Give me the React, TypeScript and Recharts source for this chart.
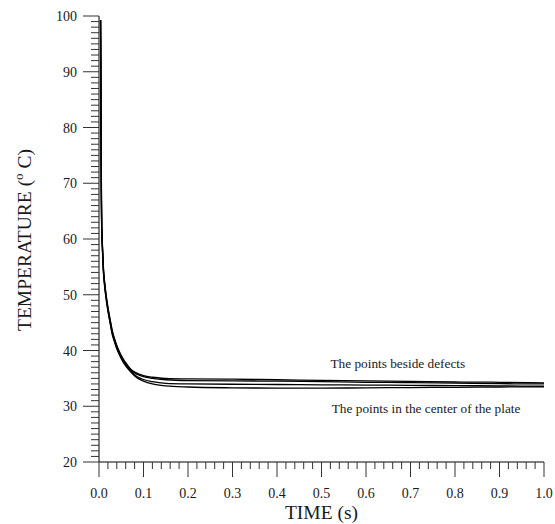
import React from 'react';
import { LineChart, Line, XAxis, YAxis, ReferenceDot } from 'recharts';

// Sampling times (s)
const times = [
  0.0035, 0.004, 0.0045, 0.005, 0.0055, 0.006, 0.007, 0.0085, 0.01, 0.0125,
  0.015, 0.0175, 0.02, 0.025, 0.03, 0.035, 0.04, 0.047, 0.055, 0.062,
  0.072, 0.085, 0.1, 0.12, 0.15, 0.2, 0.3, 0.4, 0.5, 0.6, 0.7, 0.8, 0.9, 1.0,
];

// Temperatures (°C) at points beside the defects
const besideA = [
  99.3, 93, 84, 75, 68.5, 63.5, 60.5, 57.4, 54.8, 52.4,
  50.6, 49.1, 47.8, 45.6, 43.5, 42.1, 40.9, 39.6, 38.4, 37.6,
  36.6, 35.95, 35.5, 35.2, 35.0, 34.9, 34.85, 34.75, 34.65, 34.55, 34.45, 34.35, 34.3, 34.2,
];
const besideB = [
  99.3, 92, 82, 73, 67, 62.8, 60.1, 57.1, 54.5, 52.2,
  50.4, 48.9, 47.6, 45.4, 43.3, 41.9, 40.7, 39.4, 38.2, 37.4,
  36.45, 35.75, 35.3, 35.0, 34.75, 34.6, 34.55, 34.5, 34.4, 34.3, 34.25, 34.15, 34.05, 34.0,
];

// Temperatures (°C) at points in the center of the plate
const centerA = [
  99.3, 91, 80, 71, 66, 62.2, 59.8, 56.8, 54.2, 51.9,
  50.1, 48.6, 47.3, 45.1, 43.0, 41.7, 40.5, 39.2, 38.0, 37.2,
  36.25, 35.35, 34.8, 34.4, 34.1, 34.0, 33.95, 33.9, 33.85, 33.8, 33.75, 33.7, 33.65, 33.6,
];
const centerB = [
  99.3, 90, 79, 70, 65.5, 61.8, 59.4, 56.5, 53.9, 51.6,
  49.9, 48.4, 47.1, 44.9, 42.8, 41.5, 40.3, 39.0, 37.8, 37.0,
  36.1, 35.1, 34.5, 34.0, 33.65, 33.45, 33.3, 33.25, 33.25, 33.3, 33.35, 33.4, 33.45, 33.5,
];

const xTicks = Array.from({ length: 51 }, (_, i) => +(i * 0.02).toFixed(2));
const yTicks = Array.from({ length: 81 }, (_, i) => 20 + i);

const data = times.map((t, i) => ({
  t,
  besideA: besideA[i],
  besideB: besideB[i],
  centerA: centerA[i],
  centerB: centerB[i],
}));

const FONT = "'Liberation Serif', 'Times New Roman', Times, serif";
const TICK_COLOR = '#333';
const TEXT_COLOR = '#1a1a1a';

const XTick = (props: any) => {
  const { x, y, payload } = props;
  const v: number = payload.value;
  const major = Math.abs(v * 10 - Math.round(v * 10)) < 1e-6;
  return (
    <g>
      <line x1={x} x2={x} y1={y} y2={y + (major ? 15 : 7)} stroke={TICK_COLOR} strokeWidth={1} />
      {major && (
        <text x={x} y={y + 36} textAnchor="middle" fontFamily={FONT} fontSize={14} fill={TEXT_COLOR}>
          {v.toFixed(1)}
        </text>
      )}
    </g>
  );
};

const YTick = (props: any) => {
  const { x, y, payload } = props;
  const v: number = payload.value;
  const major = v % 10 === 0;
  return (
    <g>
      <line x1={x - (major ? 16 : 8)} x2={x} y1={y} y2={y} stroke={TICK_COLOR} strokeWidth={1} />
      {major && (
        <text x={x - 22} y={y + 5} textAnchor="end" fontFamily={FONT} fontSize={14} fill={TEXT_COLOR}>
          {v}
        </text>
      )}
    </g>
  );
};

const XTitle = (props: any) => {
  const { viewBox } = props;
  return (
    <text
      x={viewBox.x + viewBox.width / 2}
      y={viewBox.y + 57}
      textAnchor="middle"
      fontFamily={FONT}
      fontSize={19.5}
      fill={TEXT_COLOR}
    >
      TIME (s)
    </text>
  );
};

const YTitle = (props: any) => {
  const { viewBox } = props;
  const cx = viewBox.x + 31;
  const cy = viewBox.y + viewBox.height / 2 + 1;
  return (
    <text
      x={cx}
      y={cy}
      transform={`rotate(-90, ${cx}, ${cy})`}
      textAnchor="middle"
      fontFamily={FONT}
      fontSize={19.5}
      fill={TEXT_COLOR}
    >
      TEMPERATURE (
      <tspan fontSize={13} dy={-8}>o</tspan>
      <tspan dy={8}> C)</tspan>
    </text>
  );
};

const note = (text: string) => (props: any) => {
  const { viewBox } = props;
  return (
    <text x={viewBox.x} y={viewBox.y} fontFamily={FONT} fontSize={13.3} fill={TEXT_COLOR}>
      {text}
    </text>
  );
};

export default function App() {
  return (
    <div style={{ position: 'absolute', left: 0, top: 0, width: 555, height: 524, background: '#fff' }}>
      <LineChart width={555} height={524} data={data} margin={{ top: 16, right: 11, bottom: 0, left: 0 }}>
        <XAxis
          type="number"
          dataKey="t"
          domain={[0, 1]}
          ticks={xTicks}
          interval={0}
          tickSize={0}
          tickMargin={0}
          tick={XTick}
          height={62}
          axisLine={{ stroke: '#000', strokeWidth: 1 }}
          label={XTitle}
        />
        <YAxis
          type="number"
          domain={[20, 100]}
          ticks={yTicks}
          interval={0}
          tickSize={0}
          tickMargin={0}
          tick={YTick}
          width={99}
          axisLine={{ stroke: '#000', strokeWidth: 1 }}
          label={YTitle}
        />
        <Line type="monotone" dataKey="besideA" stroke="#000" strokeWidth={1.3} dot={false} isAnimationActive={false} />
        <Line type="monotone" dataKey="besideB" stroke="#000" strokeWidth={1.3} dot={false} isAnimationActive={false} />
        <Line type="monotone" dataKey="centerA" stroke="#000" strokeWidth={1.3} dot={false} isAnimationActive={false} />
        <Line type="monotone" dataKey="centerB" stroke="#000" strokeWidth={1.3} dot={false} isAnimationActive={false} />
        <ReferenceDot x={0.52} y={36.86} r={0} fill="none" stroke="none" label={note('The points beside defects')} />
        <ReferenceDot x={0.523} y={28.8} r={0} fill="none" stroke="none" label={note('The points in the center of the plate')} />
      </LineChart>
    </div>
  );
}
